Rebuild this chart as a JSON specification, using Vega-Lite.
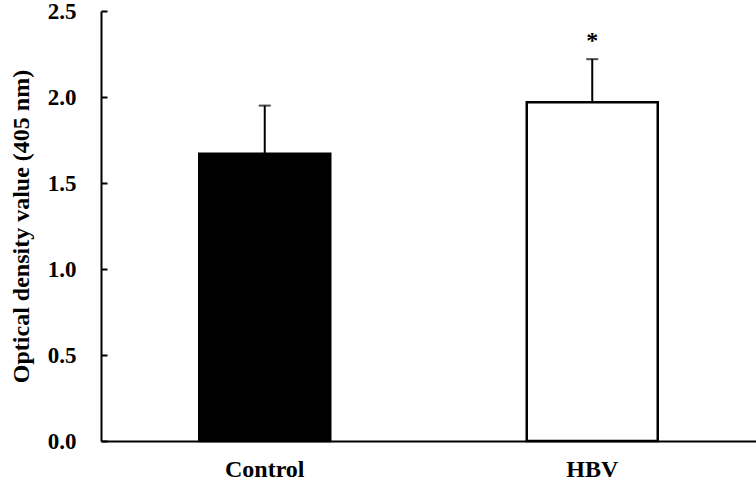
{
  "$schema": "https://vega.github.io/schema/vega-lite/v6.json",
  "width": 655,
  "height": 430,
  "autosize": {"type": "none"},
  "padding": {"left": 101, "top": 11, "right": 0, "bottom": 41},
  "background": "white",
  "config": {"view": {"stroke": null}, "font": "Liberation Serif"},
  "data": {"values": [
    {"group": "Control", "mean": 1.67, "upper": 1.95, "sig": "", "fill": "black"},
    {"group": "HBV", "mean": 1.97, "upper": 2.22, "sig": "*", "fill": "white"}
  ]},
  "encoding": {
    "x": {"field": "group", "type": "nominal", "sort": null,
      "scale": {"paddingInner": 0.6, "paddingOuter": 0.3},
      "axis": {"title": null, "labelAngle": 0, "labelFont": "Liberation Serif", "labelFontWeight": "bold", "labelFontSize": 24, "labelColor": "black", "labelPadding": 16, "ticks": false, "domainColor": "black", "domainWidth": 2}}
  },
  "layer": [
    {"mark": {"type": "bar", "stroke": "black", "strokeWidth": 2.5},
     "encoding": {
       "y": {"field": "mean", "type": "quantitative",
         "scale": {"domain": [0, 2.5], "nice": false},
         "axis": {"title": "Optical density value (405 nm)", "values": [0, 0.5, 1, 1.5, 2, 2.5], "format": ".1f", "grid": false,
           "titleFont": "Liberation Serif", "titleFontWeight": "bold", "titleFontSize": 24, "titleColor": "black", "titlePadding": 14,
           "labelFont": "Liberation Serif", "labelFontWeight": "bold", "labelFontSize": 23, "labelColor": "black", "labelPadding": 31,
           "tickColor": "black", "tickWidth": 2, "tickSize": -6, "domainColor": "black", "domainWidth": 2}},
       "fill": {"field": "fill", "type": "nominal", "scale": null}
     }},
    {"mark": {"type": "rule", "color": "black", "strokeWidth": 2},
     "encoding": {"y": {"field": "mean", "type": "quantitative"}, "y2": {"field": "upper"}}},
    {"mark": {"type": "tick", "color": "black", "thickness": 2, "size": 12, "orient": "horizontal"},
     "encoding": {"y": {"field": "upper", "type": "quantitative"}}},
    {"mark": {"type": "text", "fontSize": 24, "fontWeight": "bold", "font": "Liberation Serif", "color": "black", "dy": -6, "baseline": "bottom"},
     "encoding": {"y": {"field": "upper", "type": "quantitative"}, "text": {"field": "sig"}}}
  ]
}
